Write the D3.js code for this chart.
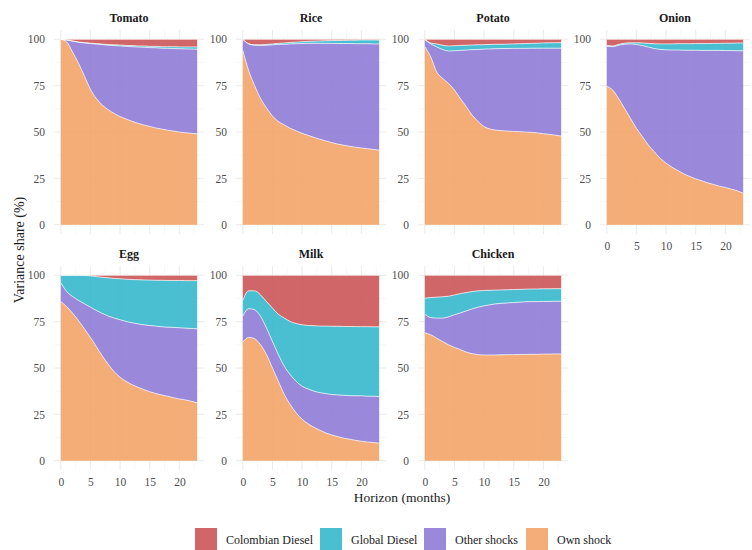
<!DOCTYPE html>
<html>
<head>
<meta charset="utf-8">
<script src="https://cdn.jsdelivr.net/npm/d3@7"></script>
<style>
  html, body { margin: 0; padding: 0; background: #ffffff; }
  svg { display: block; font-family: "Liberation Serif", "Times New Roman", serif; }
</style>
</head>
<body>
<svg id="chart" width="752" height="550"></svg>
<script>
// Forecast-error variance decomposition by commodity, horizons 0..23 months (shares in %)
const horizons = d3.range(0, 24);
const commodities = ["Tomato", "Rice", "Potato", "Onion", "Egg", "Milk", "Chicken"];
const seriesNames = ["Own shock", "Other shocks", "Global Diesel", "Colombian Diesel"];
const legendOrder = ["Colombian Diesel", "Global Diesel", "Other shocks", "Own shock"];
const yTicks = [0, 25, 50, 75, 100];
const xTicks = [0, 5, 10, 15, 20];

const tomatoOwn   = [100, 98.5, 93, 87, 80, 73, 68, 64.5, 62, 60, 58.3, 57, 55.8, 54.7, 53.8, 53, 52.2, 51.6, 51, 50.5, 50, 49.6, 49.3, 49];
const tomatoOther = [0, 1.1, 6, 11.4, 18, 24.7, 29.4, 32.6, 34.8, 36.6, 38.1, 39.2, 40.2, 41.1, 41.9, 42.5, 43.2, 43.6, 44.1, 44.5, 44.9, 45.2, 45.4, 45.6];
const tomatoGlobal = [0, 0, 0.1, 0.1, 0.2, 0.2, 0.3, 0.3, 0.4, 0.4, 0.5, 0.5, 0.6, 0.6, 0.7, 0.7, 0.8, 0.8, 0.9, 1.0, 1.0, 1.1, 1.2, 1.3];
const tomatoCol   = [0, 0.4, 0.9, 1.5, 1.8, 2.1, 2.3, 2.6, 2.8, 3.0, 3.1, 3.3, 3.4, 3.6, 3.6, 3.8, 3.8, 4.0, 4.0, 4.0, 4.1, 4.1, 4.1, 4.1];

const riceOwn    = [94, 83, 75, 68, 63, 58.6, 55.6, 53.8, 52, 50.6, 49.3, 48.2, 47.1, 46.1, 45.2, 44.3, 43.5, 42.9, 42.3, 41.8, 41.4, 41, 40.6, 40.2];
const riceOther  = [6, 14.5, 21.8, 28.7, 33.8, 38.4, 41.6, 43.5, 45.5, 47, 48.4, 49.6, 50.7, 51.7, 52.6, 53.5, 54.2, 54.8, 55.4, 55.8, 56.2, 56.6, 56.9, 57.3];
const riceGlobal = [0, 0.1, 0.2, 0.3, 0.4, 0.5, 0.6, 0.7, 0.8, 0.9, 1.0, 1.1, 1.2, 1.3, 1.4, 1.5, 1.6, 1.7, 1.8, 1.9, 2.0, 2.0, 2.1, 2.1];
const riceCol    = [0, 2.4, 3.0, 3.0, 2.8, 2.5, 2.2, 2.0, 1.7, 1.5, 1.3, 1.1, 1.0, 0.9, 0.8, 0.7, 0.7, 0.6, 0.5, 0.5, 0.4, 0.4, 0.4, 0.4];

const potatoOwn    = [96, 90.5, 82.4, 78.9, 76.2, 72.6, 68, 63.6, 59, 55.6, 52.9, 51.6, 51, 50.7, 50.5, 50.3, 50.2, 50, 49.8, 49.5, 49.1, 48.7, 48.3, 47.8];
const potatoOther  = [3.8, 7, 13.5, 15.6, 17.5, 21.2, 26, 30.6, 35.4, 38.9, 41.8, 43.2, 43.9, 44.3, 44.5, 44.8, 44.9, 45.1, 45.4, 45.7, 46.1, 46.5, 46.9, 47.4];
const potatoGlobal = [0.2, 0.5, 1.6, 2.3, 2.7, 2.7, 2.7, 2.6, 2.5, 2.5, 2.4, 2.4, 2.4, 2.3, 2.4, 2.4, 2.5, 2.6, 2.6, 2.7, 2.8, 2.9, 2.9, 3.0];
const potatoCol    = [0, 2.0, 2.5, 3.2, 3.6, 3.5, 3.3, 3.2, 3.1, 3.0, 2.9, 2.8, 2.7, 2.7, 2.6, 2.5, 2.4, 2.3, 2.2, 2.1, 2.0, 1.9, 1.9, 1.8];

const onionOwn    = [74.6, 72.6, 68, 62.7, 57.3, 52, 47.5, 43, 39.4, 35.8, 33.2, 31, 29.2, 27.4, 26, 24.7, 23.7, 22.6, 21.7, 20.8, 20.1, 19.2, 18.3, 17];
const onionOther  = [21.7, 23.4, 28.8, 34.6, 40.2, 45.2, 49.1, 52.8, 55.6, 58.7, 61.1, 63.2, 65, 66.7, 68.1, 69.4, 70.3, 71.4, 72.3, 73.2, 73.8, 74.7, 75.5, 76.8];
const onionGlobal = [0.3, 0.4, 0.5, 0.6, 0.6, 0.9, 1.4, 2.0, 2.6, 3.0, 3.2, 3.3, 3.4, 3.5, 3.5, 3.6, 3.7, 3.7, 3.8, 3.8, 4.0, 4.0, 4.2, 4.2];
const onionCol    = [3.4, 3.6, 2.7, 2.1, 1.9, 1.9, 2.0, 2.2, 2.4, 2.5, 2.5, 2.5, 2.4, 2.4, 2.4, 2.3, 2.3, 2.3, 2.2, 2.2, 2.1, 2.1, 2.0, 2.0];

const eggOwn    = [85.8, 83, 79.5, 75.5, 71, 66.5, 61.5, 56.5, 52, 48, 45, 42.8, 41, 39.6, 38.4, 37.2, 36.3, 35.5, 34.8, 34, 33.3, 32.8, 32.1, 31.2];
const eggOther  = [10.2, 8.2, 9, 10.9, 13.6, 16.3, 19.5, 22.9, 26, 28.9, 31, 32.3, 33.4, 34.2, 34.9, 35.7, 36.3, 36.7, 37.2, 37.9, 38.4, 38.7, 39.2, 39.9];
const eggGlobal = [4, 8.8, 11.5, 13.6, 15.3, 16.9, 18.3, 19.5, 20.6, 21.4, 22.1, 22.8, 23.3, 23.8, 24.2, 24.5, 24.7, 25.1, 25.2, 25.3, 25.5, 25.6, 25.8, 26];
const eggCol    = [0, 0, 0, 0, 0.1, 0.3, 0.7, 1.1, 1.4, 1.7, 1.9, 2.1, 2.3, 2.4, 2.5, 2.6, 2.7, 2.7, 2.8, 2.8, 2.8, 2.9, 2.9, 2.9];

const milkOwn    = [64, 66.5, 65.8, 62.5, 57.2, 50, 42.8, 35.7, 30.3, 25.8, 22.4, 19.9, 18, 16.4, 15, 13.9, 13, 12.2, 11.6, 11, 10.5, 10.1, 9.8, 9.5];
const milkOther  = [14, 15.5, 15.6, 15.3, 14.3, 14.3, 14.4, 15.2, 16.1, 17, 17.7, 18.8, 19.5, 20.3, 21.2, 21.8, 22.5, 23.1, 23.5, 24, 24.5, 24.7, 25, 25.1];
const milkGlobal = [8.5, 9.6, 10.2, 11.6, 14.3, 18, 21.8, 26, 28.7, 31.2, 33.2, 34.2, 35.3, 35.9, 36.4, 36.8, 37, 37.1, 37.3, 37.3, 37.3, 37.5, 37.4, 37.6];
const milkCol    = [13.5, 8.4, 8.4, 10.6, 14.2, 17.7, 21, 23.1, 24.9, 26, 26.7, 27.1, 27.2, 27.4, 27.4, 27.5, 27.5, 27.6, 27.6, 27.7, 27.7, 27.7, 27.8, 27.8];

const chickenOwn    = [69, 67.9, 66.1, 64.3, 62.5, 61.1, 59.9, 58.6, 57.7, 57.2, 57, 57, 57, 57.1, 57.2, 57.2, 57.3, 57.3, 57.4, 57.4, 57.5, 57.5, 57.6, 57.6];
const chickenOther  = [10, 9.3, 10.8, 12.6, 15.1, 17.6, 19.8, 22.2, 24.2, 25.6, 26.5, 27.1, 27.6, 27.8, 27.9, 28.1, 28.2, 28.4, 28.4, 28.4, 28.4, 28.4, 28.4, 28.4];
const chickenGlobal = [8.6, 10.8, 11.3, 11.5, 11.1, 10.7, 10.4, 9.9, 9.3, 8.8, 8.3, 7.8, 7.4, 7.2, 7.1, 7, 6.9, 6.8, 6.8, 6.8, 6.8, 6.8, 6.8, 6.8];
const chickenCol    = [12.4, 12, 11.8, 11.6, 11.3, 10.6, 9.9, 9.3, 8.8, 8.4, 8.2, 8.1, 8, 7.9, 7.8, 7.7, 7.6, 7.5, 7.4, 7.4, 7.3, 7.3, 7.2, 7.2];

const seriesByCommodity = {
  Tomato:  [tomatoOwn, tomatoOther, tomatoGlobal, tomatoCol],
  Rice:    [riceOwn, riceOther, riceGlobal, riceCol],
  Potato:  [potatoOwn, potatoOther, potatoGlobal, potatoCol],
  Onion:   [onionOwn, onionOther, onionGlobal, onionCol],
  Egg:     [eggOwn, eggOther, eggGlobal, eggCol],
  Milk:    [milkOwn, milkOther, milkGlobal, milkCol],
  Chicken: [chickenOwn, chickenOther, chickenGlobal, chickenCol]
};

const colour = d3.scaleOrdinal()
  .domain(seriesNames)
  .range(["#F3A468", "#8F7BD6", "#37B8CD", "#CB5556"]);

// Facet layout: 4 columns, 2 rows
const ncol = 4;
const panelW = 150, panelH = 204;
const colLeft = [54, 236, 418, 600];
const rowTop = [30, 266];

const svg = d3.select("#chart");

// ggplot-style 5% expansion of both axes
const xDom = [0, 23], yDom = [0, 100];
const xPad = 0.05 * (xDom[1] - xDom[0]);
const yPad = 0.05 * (yDom[1] - yDom[0]);

const stack = d3.stack().keys(seriesNames);

commodities.forEach((name, i) => {
  const col = i % ncol, row = Math.floor(i / ncol);
  const left = colLeft[col], top = rowTop[row];
  const x = d3.scaleLinear().domain([xDom[0] - xPad, xDom[1] + xPad]).range([left, left + panelW]);
  const y = d3.scaleLinear().domain([yDom[0] - yPad, yDom[1] + yPad]).range([top + panelH, top]);

  const arrays = seriesByCommodity[name];
  const table = horizons.map((h, k) => {
    const r = { h };
    seriesNames.forEach((s, j) => { r[s] = arrays[j][k]; });
    return r;
  });
  const layers = stack(table);

  const g = svg.append("g").attr("class", "panel");

  // grid
  const minorX = d3.range(2.5, 23, 5);
  const minorY = [12.5, 37.5, 62.5, 87.5];
  g.selectAll(".gxm").data(minorX).join("line")
    .attr("x1", d => x(d)).attr("x2", d => x(d)).attr("y1", top).attr("y2", top + panelH)
    .attr("stroke", "#f1f1f1").attr("stroke-width", 0.5);
  g.selectAll(".gym").data(minorY).join("line")
    .attr("y1", d => y(d)).attr("y2", d => y(d)).attr("x1", left).attr("x2", left + panelW)
    .attr("stroke", "#f1f1f1").attr("stroke-width", 0.5);
  g.selectAll(".gx").data(xTicks).join("line")
    .attr("x1", d => x(d)).attr("x2", d => x(d)).attr("y1", top).attr("y2", top + panelH)
    .attr("stroke", "#e8e8e8").attr("stroke-width", 0.9);
  g.selectAll(".gy").data(yTicks).join("line")
    .attr("y1", d => y(d)).attr("y2", d => y(d)).attr("x1", left).attr("x2", left + panelW)
    .attr("stroke", "#e8e8e8").attr("stroke-width", 0.9);

  const area = d3.area()
    .x(d => x(d.data.h)).y0(d => y(d[0])).y1(d => y(d[1]))
    .curve(d3.curveMonotoneX);
  const upper = d3.line()
    .x(d => x(d.data.h)).y(d => y(d[1]))
    .curve(d3.curveMonotoneX);

  g.selectAll(".layer").data(layers).join("path")
    .attr("d", area)
    .attr("fill", d => colour(d.key))
    .attr("fill-opacity", 0.9);
  g.selectAll(".edge").data(layers).join("path")
    .attr("d", upper)
    .attr("fill", "none")
    .attr("stroke", "#ffffff")
    .attr("stroke-opacity", 0.75)
    .attr("stroke-width", 0.9);

  // strip title
  g.append("text")
    .attr("x", left + panelW / 2).attr("y", top - 8)
    .attr("text-anchor", "middle")
    .attr("font-size", 12).attr("font-weight", "bold").attr("fill", "#1a1a1a")
    .text(name);

  // y axis
  const ya = g.append("g").attr("transform", `translate(${left},0)`)
    .call(d3.axisLeft(y).tickValues(yTicks).tickSize(0).tickPadding(9));
  ya.select(".domain").remove();
  ya.selectAll("text").attr("font-size", 11.5).attr("fill", "#4d4d4d")
    .attr("font-family", "Liberation Serif, serif");

  // x axis only on the lowest panel of each column
  const below = i + ncol;
  if (below >= commodities.length) {
    const xa = g.append("g").attr("transform", `translate(0,${top + panelH})`)
      .call(d3.axisBottom(x).tickValues(xTicks).tickSize(0).tickPadding(8));
    xa.select(".domain").remove();
    xa.selectAll("text").attr("font-size", 11.5).attr("fill", "#4d4d4d")
      .attr("font-family", "Liberation Serif, serif");
  }
});

// axis titles
svg.append("text")
  .attr("transform", `translate(24,250) rotate(-90)`)
  .attr("text-anchor", "middle")
  .attr("font-size", 14).attr("fill", "#1a1a1a")
  .text("Variance share (%)");
svg.append("text")
  .attr("x", 402).attr("y", 502)
  .attr("text-anchor", "middle")
  .attr("font-size", 13.5).attr("fill", "#1a1a1a")
  .text("Horizon (months)");

// legend
const legendX = [195, 320, 424, 526];
const legend = svg.append("g").attr("class", "legend");
legendOrder.forEach((s, i) => {
  legend.append("rect")
    .attr("x", legendX[i]).attr("y", 528).attr("width", 22).attr("height", 22)
    .attr("fill", colour(s)).attr("fill-opacity", 0.9);
  legend.append("text")
    .attr("x", legendX[i] + 31).attr("y", 544)
    .attr("font-size", 12).attr("fill", "#1a1a1a")
    .text(s);
});
</script>
</body>
</html>
